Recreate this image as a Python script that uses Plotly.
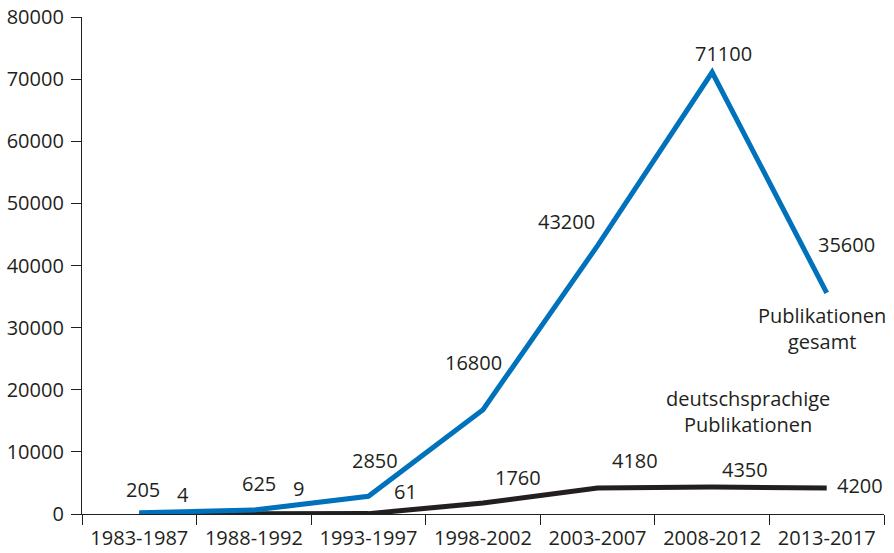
import plotly.graph_objects as go

categories = ["1983-1987", "1988-1992", "1993-1997", "1998-2002", "2003-2007", "2008-2012", "2013-2017"]
total = [205, 625, 2850, 16800, 43200, 71100, 35600]
german = [4, 9, 61, 1760, 4180, 4350, 4200]
y_ticks = [0, 10000, 20000, 30000, 40000, 50000, 60000, 70000, 80000]

# label pixel offsets (style)
total_off = [(4, 23), (5, 27), (7, 36), (-10, 47), (-31, 24), (11, 19), (20, 48)]
german_off = [(44, 19), (45, 25), (37, 22), (35, 26), (37, 28), (33, 17), (33, 2)]

TXT = "#231f20"
BLUE = "#0072bc"
FONT = "Open Sans"

fig = go.Figure()
fig.add_trace(go.Scatter(x=categories, y=german, mode="lines",
                         line=dict(color="#231f20", width=5), hoverinfo="skip"))
fig.add_trace(go.Scatter(x=categories, y=total, mode="lines",
                         line=dict(color=BLUE, width=5), hoverinfo="skip"))

ann = []
for c, v, (dx, dy) in zip(categories, total, total_off):
    ann.append(dict(x=c, y=v, xref="x", yref="y", text=str(v), showarrow=False,
                    xshift=dx, yshift=dy, font=dict(family=FONT, size=20, color=TXT)))
for c, v, (dx, dy) in zip(categories, german, german_off):
    ann.append(dict(x=c, y=v, xref="x", yref="y", text=str(v), showarrow=False,
                    xshift=dx, yshift=dy, font=dict(family=FONT, size=20, color=TXT)))
ann.append(dict(x=0.9227, y=0.373, xref="paper", yref="paper", text="Publikationen<br>gesamt",
                showarrow=False, xanchor="center", yanchor="middle",
                font=dict(family=FONT, size=20, color=TXT)))
ann.append(dict(x=0.830, y=0.206, xref="paper", yref="paper", text="deutschsprachige<br>Publikationen",
                showarrow=False, xanchor="center", yanchor="middle",
                font=dict(family=FONT, size=20, color=TXT)))

fig.update_layout(
    width=894, height=553,
    margin=dict(l=82, r=10, t=17, b=39),
    paper_bgcolor="white", plot_bgcolor="white",
    showlegend=False,
    font=dict(family=FONT, size=20, color=TXT),
    annotations=ann,
    xaxis=dict(type="category", range=[-0.5, 6.5], tickson="boundaries",
               ticks="outside", ticklen=10, tickwidth=1.3, tickcolor=TXT,
               showline=True, linecolor=TXT, linewidth=1.3, showgrid=False,
               automargin=False, ticklabelstandoff=6,
               tickfont=dict(family=FONT, size=20, color=TXT)),
    yaxis=dict(range=[0, 80000], tickvals=y_ticks, tickformat="d",
               ticks="outside", ticklen=10, tickwidth=1.3, tickcolor=TXT,
               showline=True, linecolor=TXT, linewidth=1.3, showgrid=False, zeroline=False,
               automargin=False, ticklabelstandoff=3,
               tickfont=dict(family=FONT, size=20, color=TXT)),
)

fig.write_html("out.html")
